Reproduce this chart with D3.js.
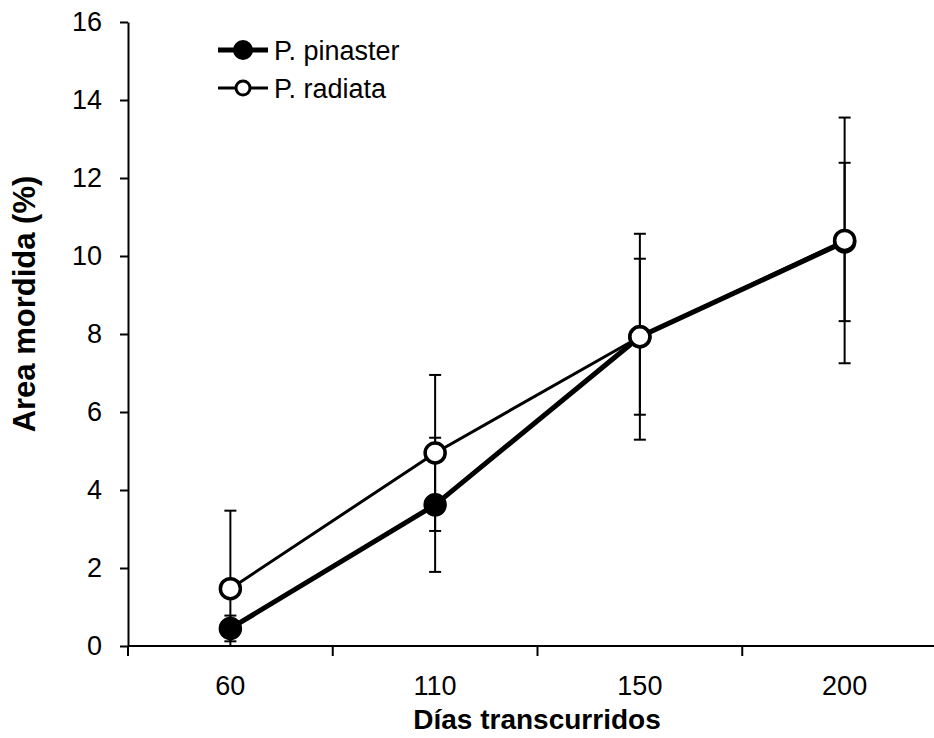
<!DOCTYPE html>
<html>
<head>
<meta charset="utf-8">
<script src="https://cdn.jsdelivr.net/npm/d3@7"></script>
<style>
  body { margin: 0; background: #fff; }
  svg { font-family: "Liberation Sans", Arial, sans-serif; }
</style>
</head>
<body>
<div id="chart"></div>
<script>
// data
const dias = ["60", "110", "150", "200"];
const pinaster = [0.45, 3.62, 7.93, 10.36];
const pinasterErr = [0.33, 1.72, 2.0, 2.03];
const radiata = [1.47, 4.95, 7.93, 10.4];
const radiataErr = [2.0, 2.0, 2.64, 3.15];
const yTicks = [0, 2, 4, 6, 8, 10, 12, 14, 16];

const width = 934, height = 738;
const margin = { left: 128, top: 22, bottom: 92 };

const svg = d3.select("#chart").append("svg")
  .attr("width", width)
  .attr("height", height);

const x = d3.scaleBand()
  .domain(dias)
  .range([margin.left, 947]);

const y = d3.scaleLinear()
  .domain([0, 16])
  .range([height - margin.bottom, margin.top]);

// y axis
const yAxis = svg.append("g")
  .attr("transform", `translate(${margin.left},0)`)
  .call(d3.axisLeft(y).tickValues(yTicks).tickSize(8).tickSizeOuter(0).tickPadding(18));
yAxis.select(".domain").attr("stroke", "#000").attr("stroke-width", 2);
yAxis.selectAll(".tick line").attr("stroke-width", 2);
yAxis.selectAll(".tick text").attr("font-size", 27).attr("fill", "#000")
  .attr("font-family", "Liberation Sans, Arial, sans-serif");

// x axis, ticks between categories (excel style)
const xAxisG = svg.append("g")
  .attr("transform", `translate(0,${y(0)})`);
xAxisG.append("line")
  .attr("x1", margin.left).attr("x2", width)
  .attr("stroke", "#000").attr("stroke-width", 2);
xAxisG.selectAll(".sep")
  .data(dias)
  .join("line")
  .attr("class", "sep")
  .attr("x1", d => x(d)).attr("x2", d => x(d))
  .attr("y1", 0).attr("y2", 10)
  .attr("stroke", "#000").attr("stroke-width", 2);
xAxisG.selectAll(".lab")
  .data(dias)
  .join("text")
  .attr("class", "lab")
  .attr("x", d => x(d) + x.bandwidth() / 2)
  .attr("y", 49)
  .attr("text-anchor", "middle")
  .attr("font-size", 27)
  .text(d => d);

// axis titles
svg.append("text")
  .attr("x", 537).attr("y", 729)
  .attr("text-anchor", "middle")
  .attr("font-size", 28).attr("font-weight", "bold")
  .text("Días transcurridos");
svg.append("text")
  .attr("transform", "translate(35,304) rotate(-90)")
  .attr("text-anchor", "middle")
  .attr("font-size", 31).attr("font-weight", "bold")
  .text("Area mordida (%)");

const cx = d => x(d) + x.bandwidth() / 2;

const series = [
  { name: "P. pinaster", vals: pinaster, err: pinasterErr, lw: 5, fill: "#000" },
  { name: "P. radiata", vals: radiata, err: radiataErr, lw: 3, fill: "#fff" }
];

// error bars
series.forEach(s => {
  const g = svg.append("g");
  dias.forEach((d, i) => {
    const hi = s.vals[i] + s.err[i];
    const lo = s.vals[i] - s.err[i];
    const px = cx(d);
    g.append("line")
      .attr("x1", px).attr("x2", px)
      .attr("y1", y(Math.max(lo, 0))).attr("y2", y(hi))
      .attr("stroke", "#000").attr("stroke-width", 2);
    [hi, lo].filter(v => v >= 0).forEach(v => {
      g.append("line")
        .attr("x1", px - 6).attr("x2", px + 6)
        .attr("y1", y(v)).attr("y2", y(v))
        .attr("stroke", "#000").attr("stroke-width", 2);
    });
  });
});

const line = d3.line()
  .x((v, i) => cx(dias[i]))
  .y(v => y(v));

series.forEach(s => {
  svg.append("path")
    .datum(s.vals)
    .attr("d", line)
    .attr("fill", "none")
    .attr("stroke", "#000")
    .attr("stroke-width", s.lw);
  svg.selectAll(null)
    .data(s.vals)
    .join("circle")
    .attr("cx", (v, i) => cx(dias[i]))
    .attr("cy", v => y(v))
    .attr("r", 10)
    .attr("fill", s.fill)
    .attr("stroke", "#000")
    .attr("stroke-width", 3.5);
});

// legend
const legend = svg.append("g");
series.forEach((s, i) => {
  const ly = 50 + i * 38;
  legend.append("line")
    .attr("x1", 218).attr("x2", 268)
    .attr("y1", ly).attr("y2", ly)
    .attr("stroke", "#000").attr("stroke-width", s.lw);
  legend.append("circle")
    .attr("cx", 243).attr("cy", ly).attr("r", i === 0 ? 8.5 : 7)
    .attr("fill", s.fill).attr("stroke", "#000").attr("stroke-width", 3);
  legend.append("text")
    .attr("x", 274).attr("y", ly + 10)
    .attr("font-size", 27)
    .text(s.name);
});
</script>
</body>
</html>
